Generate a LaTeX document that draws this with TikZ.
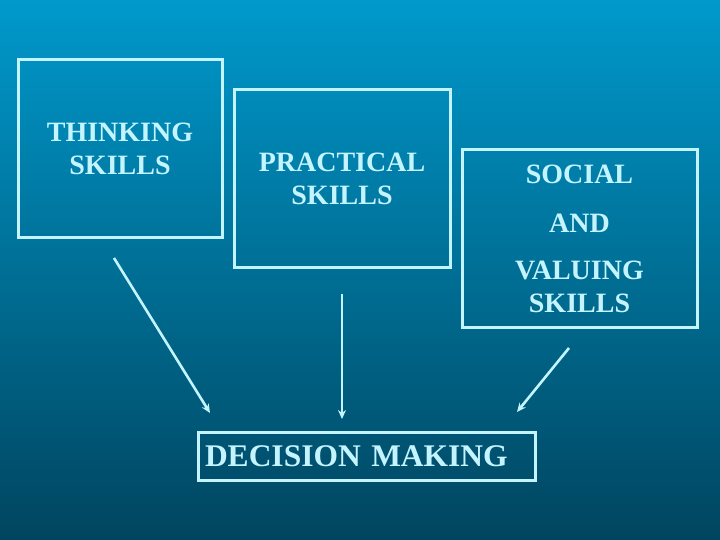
\documentclass[tikz,border=0pt]{standalone}
\usepackage{fontspec}
\setmainfont{Liberation Serif}
\usetikzlibrary{arrows.meta,positioning}
\definecolor{SkyTop}{HTML}{0099CC}
\definecolor{SkyBot}{HTML}{00455F}
\definecolor{Ice}{HTML}{C4F4FF}

\begin{document}
\begin{tikzpicture}[x=1pt,y=-1pt]
  \def\LCOL{Ice}
  \tikzstyle{skl} = [draw=\LCOL, text=\LCOL, line width=3pt, minimum height=177pt, align=center, inner sep=0pt, font=\fontsize{28}{33}\selectfont\bfseries]
  \tikzstyle{dec} = [draw=\LCOL, text=\LCOL, line width=3pt, minimum height=48pt, text width=323pt, inner xsep=7pt, align=left, font=\fontsize{31.5}{36}\selectfont\bfseries]
  \tikzstyle{arw} = [draw=\LCOL, line width=2.6pt, -{Stealth[length=9pt,width=8pt]}]

  % background
  \shade[top color=SkyTop, bottom color=SkyBot] (0,0) rectangle (720,540);
  \useasboundingbox (0,0) rectangle (720,540);

  \node[skl,minimum width=204pt] (TS) at (120,148.5) {THINKING\\SKILLS};
  \node[skl,minimum width=216pt] (PS) at (342,178.5) {PRACTICAL\\SKILLS};
  \node[skl,minimum width=235pt] (SV) at (579.5,238.5) {SOCIAL\\[16pt]AND\\[14pt]VALUING\\SKILLS};

  \node[dec] (DM) at (366.5,456) {DECISION MAKING};

  % arrow ends
  \coordinate (TSa) at (114,258);
  \coordinate (TSb) at (210,413);
  \coordinate (PSa) at (342,294);
  \coordinate (PSb) at (342,419);
  \coordinate (SVa) at (569,348);
  \coordinate (SVb) at (517,412);

  \draw[arw] (TSa) -- (TSb);
  \draw[arw] (PSa) -- (PSb);
  \draw[arw] (SVa) -- (SVb);
\end{tikzpicture}
\end{document}
